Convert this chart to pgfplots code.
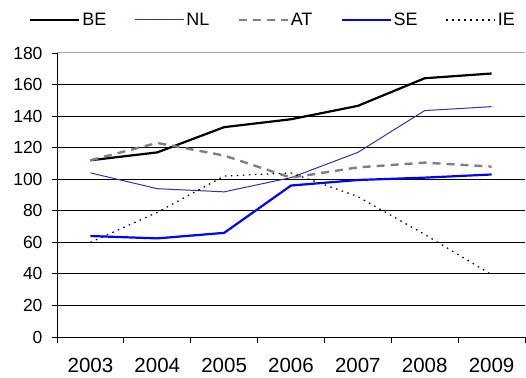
\documentclass[border=0pt]{standalone}
\usepackage{fontspec}
\setmainfont{Liberation Sans}
\usepackage{pgfplots}
\pgfplotsset{compat=1.18}
\definecolor{nlblue}{RGB}{51,51,153}
\definecolor{atgray}{RGB}{128,128,128}
\begin{document}
\begin{tikzpicture}
\begin{axis}[
  scale only axis, width=468bp, height=284bp,
  xmin=-0.5, xmax=6.5, ymin=0, ymax=180,
  axis lines*=left,
  axis line style={black, line width=0.9bp},
  xtick={0,...,6},
  xticklabels={2003,2004,2005,2006,2007,2008,2009},
  major x tick style={draw=none},
  minor xtick={-0.5,0.5,...,6.5},
  minor x tick style={black, line width=0.9bp},
  minor tick length=6bp,
  ytick={0,20,...,160},
  extra y ticks={180},
  extra y tick style={grid style={gray!70, line width=1bp}},
  ymajorgrids,
  grid style={black, line width=0.9bp},
  y tick style={black, line width=0.9bp},
  tick align=outside,
  major tick length=5bp,
  xticklabel style={yshift=-13bp, font=\fontsize{20.5bp}{24bp}\selectfont},
  yticklabel style={xshift=-6bp, font=\fontsize{17.5bp}{20bp}\selectfont},
  /pgf/number format/assume math mode=true,
  legend columns=5,
  legend style={draw=none, fill=none, at={(rel axis cs:0,1)}, anchor=west, xshift=-28bp, yshift=33bp,
    font=\fontsize{18bp}{21bp}\selectfont, /tikz/every even column/.append style={column sep=26bp},
    inner sep=0pt},
  legend image code/.code={\draw[#1] (0bp,0bp) -- (49bp,0bp);},
]
\addplot[black, line width=2.2bp] coordinates {(0,112) (1,117) (2,133) (3,138) (4,146.5) (5,164) (6,167)};
\addlegendentry{BE}
\addplot[nlblue, line width=1bp] coordinates {(0,104) (1,94) (2,92) (3,101) (4,117) (5,143.5) (6,146)};
\addlegendentry{NL}
\addplot[atgray, line width=2.4bp, dash pattern=on 8bp off 6bp] coordinates {(0,112) (1,123) (2,115) (3,101) (4,107.5) (5,110.5) (6,108)};
\addlegendentry{AT}
\addplot[blue, line width=2.2bp] coordinates {(0,64) (1,62.5) (2,66) (3,96) (4,99.5) (5,101) (6,103)};
\addlegendentry{SE}
\addplot[black, line width=1.2bp, dash pattern=on 1.5bp off 4.5bp] coordinates {(0,60) (1,79) (2,102) (3,104) (4,89) (5,65) (6,39.5)};
\addlegendentry{IE}
\end{axis}
\pgfresetboundingbox
\useasboundingbox (-57bp,-41bp) rectangle (469bp,337bp);
\end{tikzpicture}
\end{document}
